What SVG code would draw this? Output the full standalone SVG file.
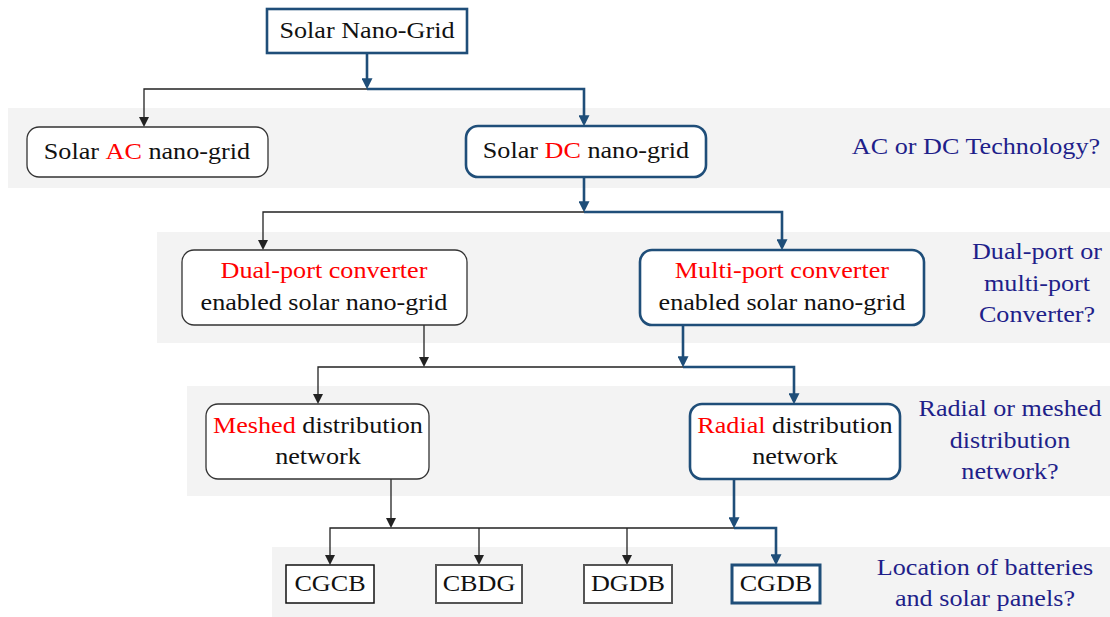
<svg xmlns="http://www.w3.org/2000/svg" width="1110" height="617" viewBox="0 0 1110 617" font-family="'Liberation Serif', 'DejaVu Serif', serif">
<style>
text{font-family:'Liberation Serif','DejaVu Serif',serif;font-size:24px;text-anchor:middle;fill:#111;transform-box:fill-box;transform-origin:center;transform:scaleX(1.09)}
.q{fill:#1f1f8a}
.r{fill:#ff0000}
.band{fill:#f3f3f3}
.nb{fill:#fff;stroke:#333;stroke-width:1.3}
.bb{fill:#fff;stroke:#1f4e79;stroke-width:2.6}
.gb{fill:#fff;stroke:#555;stroke-width:2}
.kl{fill:none;stroke:#222;stroke-width:1.3}
.bl{fill:none;stroke:#1f4e79;stroke-width:2.6}
</style>
<defs>
<marker id="ak" markerUnits="userSpaceOnUse" markerWidth="10" markerHeight="10" refX="7" refY="5" orient="auto" viewBox="0 0 10 10"><path d="M0,0 L10,5 L0,10 z" fill="#222"/></marker>
<marker id="ab" markerUnits="userSpaceOnUse" markerWidth="11" markerHeight="11" refX="7" refY="5" orient="auto" viewBox="0 0 10 10"><path d="M0,0 L10,5 L0,10 z" fill="#1f4e79"/></marker>
</defs>
<g id="bands">
<rect class="band" x="8" y="108" width="1102" height="80"/>
<rect class="band" x="157" y="232" width="953" height="111"/>
<rect class="band" x="187" y="386" width="923" height="110"/>
<rect class="band" x="272" y="547" width="838" height="70"/>
</g>
<g id="connectors">
<polyline class="kl" points="367,89 144,89 144,124" marker-end="url(#ak)"/>
<polyline class="bl" points="367,53 367,86" marker-end="url(#ab)"/>
<polyline class="bl" points="367,89 584,89 584,123" marker-end="url(#ab)"/>
<polyline class="bl" points="584,177 584,209" marker-end="url(#ab)"/>
<polyline class="kl" points="584,212 263,212 263,247" marker-end="url(#ak)"/>
<polyline class="bl" points="584,212 782,212 782,247" marker-end="url(#ab)"/>
<polyline class="kl" points="424,325 424,364" marker-end="url(#ak)"/>
<polyline class="bl" points="683,325 683,364" marker-end="url(#ab)"/>
<polyline class="kl" points="683,367 318,367 318,401" marker-end="url(#ak)"/>
<polyline class="bl" points="683,367 794,367 794,401" marker-end="url(#ab)"/>
<polyline class="kl" points="391,479 391,525" marker-end="url(#ak)"/>
<polyline class="bl" points="734,479 734,525" marker-end="url(#ab)"/>
<polyline class="kl" points="734,528 330,528 330,562" marker-end="url(#ak)"/>
<polyline class="kl" points="479,528 479,562" marker-end="url(#ak)"/>
<polyline class="kl" points="627,528 627,562" marker-end="url(#ak)"/>
<polyline class="bl" points="734,528 776,528 776,562" marker-end="url(#ab)"/>
</g>
<g id="n-root"><rect class="bb" x="267" y="9" width="200" height="44"/><text x="367" y="38">Solar Nano-Grid</text></g>
<g id="n-ac"><rect class="nb" x="27" y="127" width="241" height="50" rx="12"/><text x="147" y="159">Solar <tspan class="r">AC</tspan> nano-grid</text></g>
<g id="n-dc"><rect class="bb" x="466" y="126" width="240" height="51" rx="12"/><text x="586" y="158">Solar <tspan class="r">DC</tspan> nano-grid</text></g>
<g id="n-dual"><rect class="nb" x="182" y="250" width="285" height="75" rx="12"/><text x="324" y="278" class="r">Dual-port converter</text><text x="324" y="310">enabled solar nano-grid</text></g>
<g id="n-multi"><rect class="bb" x="640" y="250" width="284" height="75" rx="12"/><text x="782" y="278" class="r">Multi-port converter</text><text x="782" y="310">enabled solar nano-grid</text></g>
<g id="n-meshed"><rect class="nb" x="206" y="404" width="223" height="75" rx="12"/><text x="318" y="433"><tspan class="r">Meshed</tspan> distribution</text><text x="318" y="464">network</text></g>
<g id="n-radial"><rect class="bb" x="690" y="404" width="210" height="75" rx="12"/><text x="795" y="433"><tspan class="r">Radial</tspan> distribution</text><text x="795" y="464">network</text></g>
<g id="n-cgcb"><rect class="nb" x="286" y="565" width="88" height="38" style="stroke:#111;stroke-width:1.5"/><text x="330" y="591">CGCB</text></g>
<g id="n-cbdg"><rect class="gb" x="436" y="565" width="86" height="38"/><text x="479" y="591">CBDG</text></g>
<g id="n-dgdb"><rect class="gb" x="584" y="565" width="88" height="38"/><text x="628" y="591">DGDB</text></g>
<g id="n-cgdb"><rect class="bb" x="732" y="565" width="88" height="38" style="stroke-width:3"/><text x="776" y="591">CGDB</text></g>
<g id="labels">
<text class="q" x="976" y="154">AC or DC Technology?</text>
<text class="q" x="1037" y="259">Dual-port or</text>
<text class="q" x="1037" y="291">multi-port</text>
<text class="q" x="1037" y="322">Converter?</text>
<text class="q" x="1010" y="416">Radial or meshed</text>
<text class="q" x="1010" y="448">distribution</text>
<text class="q" x="1010" y="479">network?</text>
<text class="q" x="985" y="575">Location of batteries</text>
<text class="q" x="985" y="606">and solar panels?</text>
</g>
</svg>
